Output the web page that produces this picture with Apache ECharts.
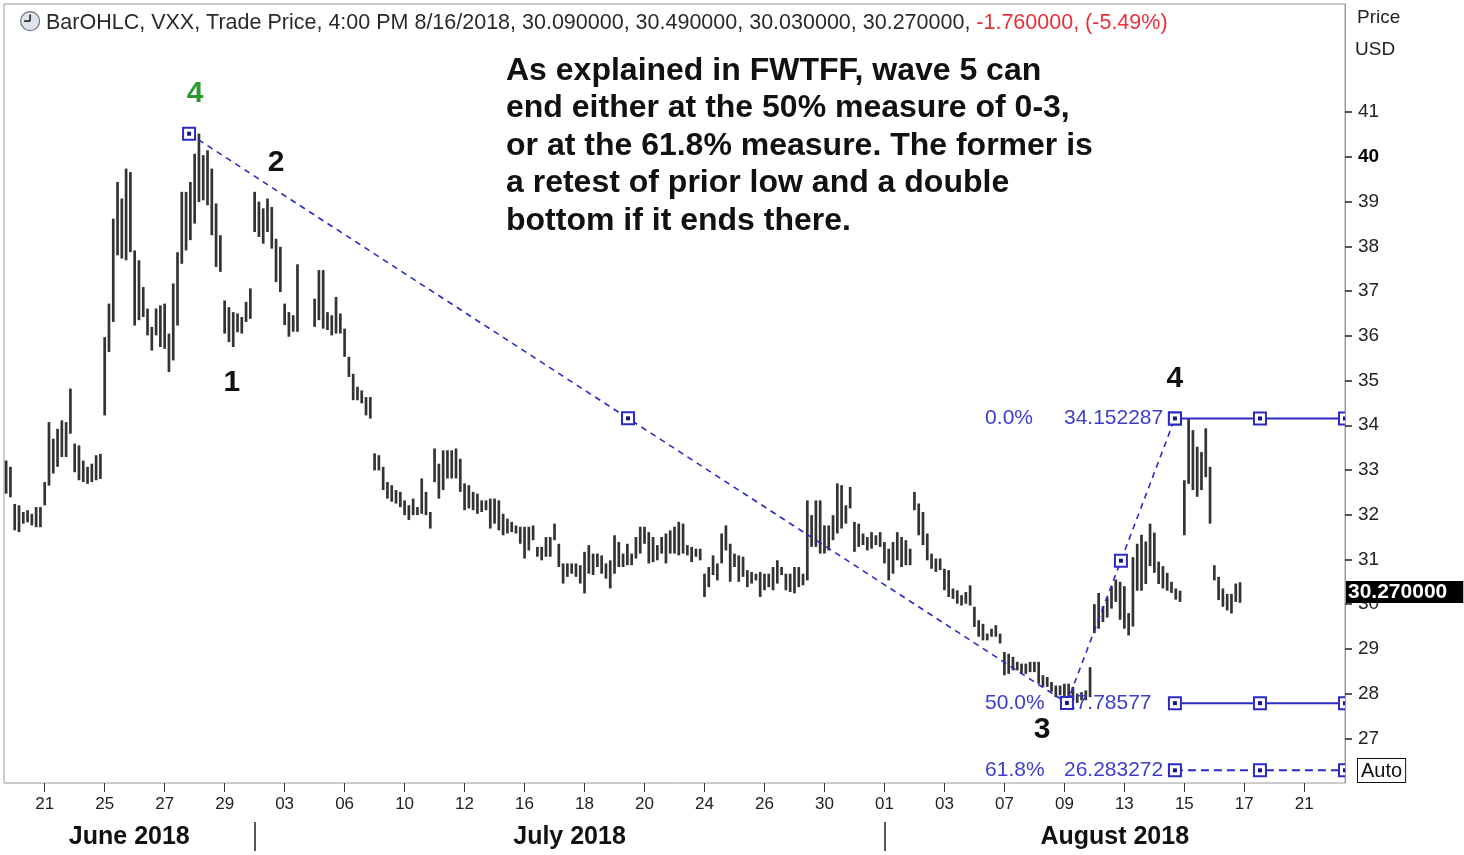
<!DOCTYPE html>
<html>
<head>
<meta charset="utf-8">
<script src="https://cdn.jsdelivr.net/npm/echarts@6/dist/echarts.min.js"></script>
<style>
html,body{margin:0;padding:0;background:#fff;}
#chart{width:1464px;height:855px;}
</style>
</head>
<body>
<div id="chart"></div>
<script>
// ---------------- DATA ----------------
// trading days on the time axis (7 hourly slots per day; the right-most days are still empty)
const tradingDays = ['2018-06-19','2018-06-20','2018-06-21','2018-06-22','2018-06-25','2018-06-26','2018-06-27','2018-06-28','2018-06-29',
  '2018-07-02','2018-07-03','2018-07-05','2018-07-06','2018-07-09','2018-07-10','2018-07-11','2018-07-12','2018-07-13',
  '2018-07-16','2018-07-17','2018-07-18','2018-07-19','2018-07-20','2018-07-23','2018-07-24','2018-07-25','2018-07-26','2018-07-27',
  '2018-07-30','2018-07-31','2018-08-01','2018-08-02','2018-08-03','2018-08-06','2018-08-07','2018-08-08','2018-08-09','2018-08-10',
  '2018-08-13','2018-08-14','2018-08-15','2018-08-16','2018-08-17','2018-08-20','2018-08-21','2018-08-22'];
const slotsPerDay = 7;
const firstBarSlot = 5;          // first visible bar = 6th hourly bar of June 19

// hourly bar highs / lows (null = no bar, e.g. July 3 half day)
const barHigh = [
  33.21, 33.07,                                         // Jun 19
  32.24, 32.21, 32.06, 32.10, 32.02, 32.17, 32.17,      // Jun 20
  32.73, 34.07, 33.70, 33.92, 34.11, 34.07, 34.82,      // Jun 21
  33.59, 33.55, 33.21, 33.07, 33.14, 33.33, 33.36,      // Jun 22
  35.97, 36.72, 38.62, 39.44, 39.07, 39.74, 39.66,      // Jun 25
  37.91, 37.69, 37.09, 36.61, 36.20, 36.61, 36.68,      // Jun 26
  36.72, 36.05, 37.17, 37.87, 39.22, 39.22, 39.44,      // Jun 27
  40.07, 40.52, 40.04, 40.15, 39.74, 38.96, 38.25,      // Jun 28
  36.79, 36.64, 36.53, 36.50, 36.42, 36.76, 37.06,      // Jun 29
  39.22, 39.00, 38.85, 39.07, 38.88, 38.17, 37.99,      // Jul 02
  36.72, 36.53, 36.46, 37.60, null, null, null,         // Jul 03
  36.83, 37.47, 37.47, 36.53, 36.46, 36.87, 36.50,      // Jul 05
  36.16, 35.53, 35.15, 34.86, 34.78, 34.63, 34.63,      // Jul 06
  33.37, 33.33, 33.07, 32.73, 32.66, 32.55, 32.51,      // Jul 09
  32.32, 32.21, 32.36, 32.17, 32.81, 32.51, 32.06,      // Jul 10
  33.48, 33.14, 33.44, 33.44, 33.44, 33.48, 33.25,      // Jul 11
  32.70, 32.66, 32.51, 32.47, 32.32, 32.32, 32.36,      // Jul 12
  32.36, 32.32, 32.02, 31.91, 31.84, 31.76, 31.73,      // Jul 13
  31.73, 31.73, 31.76, 31.28, 31.28, 31.50, 31.50,      // Jul 16
  31.80, 31.35, 30.91, 30.91, 30.91, 30.91, 30.87,      // Jul 17
  31.17, 31.32, 31.13, 31.13, 31.09, 30.91, 30.98,      // Jul 18
  31.54, 31.39, 31.13, 31.35, 31.13, 31.50, 31.73,      // Jul 19
  31.73, 31.61, 31.50, 31.32, 31.50, 31.58, 31.65,      // Jul 20
  31.73, 31.84, 31.80, 31.32, 31.28, 31.24, 31.24,      // Jul 23
  30.68, 30.83, 31.09, 30.91, 31.58, 31.76, 31.35,      // Jul 24
  31.13, 31.09, 31.06, 30.76, 30.72, 30.68, 30.72,      // Jul 25
  30.68, 30.68, 30.83, 30.98, 30.83, 30.68, 30.68,      // Jul 26
  30.83, 30.83, 30.68, 32.32, 31.99, 32.32, 32.32,      // Jul 27
  31.76, 31.76, 31.99, 32.70, 32.66, 32.21, 32.62,      // Jul 30
  31.84, 31.80, 31.58, 31.50, 31.61, 31.54, 31.61,      // Jul 31
  31.39, 31.24, 31.39, 31.61, 31.50, 31.43, 31.24,      // Aug 01
  32.51, 32.25, 32.06, 31.58, 31.13, 31.02, 31.02,      // Aug 02
  30.79, 30.76, 30.35, 30.31, 30.20, 30.27, 30.42,      // Aug 03
  29.94, 29.64, 29.56, 29.34, 29.45, 29.53, 29.34,      // Aug 06
  28.93, 28.89, 28.82, 28.71, 28.67, 28.67, 28.71,      // Aug 07
  28.71, 28.71, 28.41, 28.37, 28.26, 28.18, 28.18,      // Aug 08
  28.22, 28.22, 28.15, 28.00, 28.03, 28.07, 28.59,      // Aug 09
  30.00, 30.25, 29.95, 30.15, 30.40, 30.55, 30.50,      // Aug 10
  30.40, 29.80, 31.05, 31.35, 31.55, 31.40, 31.80,      // Aug 13
  31.60, 30.95, 30.85, 30.70, 30.50, 30.35, 30.30,      // Aug 14
  32.77, 34.15, 33.89, 33.52, 33.40, 33.93, 33.07,      // Aug 15
  30.87, 30.61, 30.35, 30.23, 30.23, 30.46, 30.49       // Aug 16
];
const barLow = [
  32.47, 32.39,
  31.65, 31.61, 31.80, 31.83, 31.76, 31.72, 31.72,
  32.21, 32.65, 32.92, 33.07, 33.29, 33.29, 33.81,
  32.95, 32.77, 32.73, 32.69, 32.73, 32.77, 32.80,
  34.22, 35.64, 36.31, 37.80, 37.73, 37.69, 37.87,
  36.23, 36.35, 36.42, 36.01, 35.67, 36.01, 35.75,
  35.71, 35.19, 35.45, 36.23, 37.61, 37.91, 38.14,
  38.51, 38.99, 39.03, 38.92, 38.25, 37.54, 37.43,
  36.05, 35.86, 35.75, 36.08, 36.05, 36.31, 36.38,
  38.32, 38.21, 38.06, 38.32, 37.95, 37.20, 36.98,
  36.24, 35.98, 36.09, 36.09, null, null, null,
  36.20, 36.35, 36.16, 36.13, 36.01, 36.05, 36.05,
  35.53, 35.08, 34.56, 34.56, 34.49, 34.22, 34.15,
  32.99, 32.99, 32.55, 32.36, 32.29, 32.25, 32.17,
  31.99, 31.88, 31.99, 31.99, 32.02, 31.99, 31.69,
  32.73, 32.36, 32.55, 32.81, 32.81, 32.81, 32.51,
  32.10, 32.14, 32.10, 32.02, 32.06, 32.10, 31.69,
  31.80, 31.65, 31.54, 31.58, 31.61, 31.58, 31.35,
  31.02, 31.20, 31.43, 31.06, 30.98, 31.06, 31.06,
  31.43, 30.83, 30.46, 30.61, 30.68, 30.61, 30.46,
  30.24, 30.68, 30.65, 30.83, 30.68, 30.57, 30.35,
  30.68, 30.83, 30.83, 30.87, 30.87, 31.02, 31.13,
  31.35, 30.91, 30.94, 30.98, 31.13, 30.91, 31.13,
  31.13, 31.09, 31.13, 31.09, 30.94, 31.06, 30.98,
  30.16, 30.38, 30.65, 30.53, 30.91, 31.20, 30.50,
  30.83, 30.50, 30.61, 30.38, 30.46, 30.53, 30.16,
  30.31, 30.38, 30.31, 30.46, 30.65, 30.31, 30.27,
  30.24, 30.38, 30.42, 30.53, 31.28, 31.28, 31.13,
  31.13, 31.20, 31.43, 31.58, 31.69, 31.80, 32.14,
  31.17, 31.28, 31.32, 31.20, 31.24, 31.32, 31.28,
  30.91, 30.53, 30.68, 30.98, 30.83, 30.87, 30.87,
  32.10, 31.54, 31.32, 30.98, 30.79, 30.72, 30.76,
  30.31, 30.16, 30.12, 30.01, 29.97, 30.01, 29.97,
  29.49, 29.27, 29.19, 29.19, 29.27, 29.27, 29.12,
  28.41, 28.44, 28.52, 28.52, 28.44, 28.44, 28.48,
  28.48, 28.22, 28.15, 28.15, 28.04, 27.92, 27.96,
  27.92, 27.89, 27.85, 27.79, 27.85, 27.85, 27.92,
  29.35, 29.45, 29.60, 29.70, 29.90, 30.05, 29.65,
  29.45, 29.30, 29.50, 30.30, 30.30, 30.45, 30.85,
  30.70, 30.45, 30.35, 30.30, 30.25, 30.10, 30.05,
  31.54, 32.69, 32.55, 32.40, 32.55, 32.84, 31.80,
  30.53, 30.09, 29.94, 29.86, 29.79, 30.05, 30.03
];
// last bar (header) : open, high, low, close, change, change %
const lastBarOHLC = [30.09, 30.49, 30.03, 30.27];
const lastChange = -1.76;
const lastChangePct = -5.49;

// axis tick labels
const dateTickDays = ['2018-06-21','2018-06-25','2018-06-27','2018-06-29','2018-07-03','2018-07-06','2018-07-10','2018-07-12',
  '2018-07-16','2018-07-18','2018-07-20','2018-07-24','2018-07-26','2018-07-30','2018-08-01','2018-08-03','2018-08-07',
  '2018-08-09','2018-08-13','2018-08-15','2018-08-17','2018-08-21'];
const monthNames = ['June 2018','July 2018','August 2018'];
const monthStartDays = [null,'2018-07-02','2018-08-01'];
const priceTicks = [27,28,29,30,31,32,33,34,35,36,37,38,39,40,41];

// Fibonacci drawing (anchors in slot / price) and its levels
const waveAnchorSlot  = [47.7, 252.6, 277.8];
const waveAnchorPrice = [40.52, 27.79, 34.152287];
const fibPct   = ['0.0%', '50.0%', '61.8%'];
const fibValue = [34.152287, 27.78577, 26.283272];
const fibPctSlot = 233.5, fibValueSlot = 251.9;

// Elliott wave labels
const waveLabelText  = ['4', '2', '1', '3', '4'];
const waveLabelSlot  = [49.1, 68.0, 57.7, 246.8, 277.8];
const waveLabelPrice = [41.42, 39.88, 34.94, 27.18, 35.05];
const waveLabelColor = ['#2e9a2e', '#111', '#111', '#111', '#111'];

const noteLines = ['As explained in FWTFF, wave 5 can','end either at the 50% measure of 0-3,',
  'or at the 61.8% measure. The former is','a retest of prior low and a double','bottom if it ends there.'];

// ---------------- BUILD ----------------
const FONT = 'Liberation Sans, Arial, sans-serif';
const X_MIN = 4.5, X_MAX = X_MIN + 313;
const daySlot = d => tradingDays.indexOf(d) * slotsPerDay;

const barData = [];
barHigh.forEach((h, i) => { if (h != null) barData.push([firstBarSlot + i, h, barLow[i]]); });

const dateTickSlots = dateTickDays.map(daySlot);
const dateLabelBySlot = {};
dateTickDays.forEach((d, k) => { dateLabelBySlot[dateTickSlots[k]] = d.slice(8); });

const monthBoundary = monthStartDays.map(d => d ? daySlot(d) : X_MIN);
const monthCenters = monthBoundary.map((b, k) => (b + (k + 1 < monthBoundary.length ? monthBoundary[k + 1] : X_MAX)) / 2);
const monthLabelBySlot = {};
monthCenters.forEach((c, k) => { monthLabelBySlot[c] = monthNames[k]; });

const waveLine = waveAnchorSlot.map((s, k) => [s, waveAnchorPrice[k]]);
const handles = [];
waveLine.forEach((p, k) => {
  handles.push(p);
  if (k + 1 < waveLine.length) handles.push([(p[0] + waveLine[k + 1][0]) / 2, (p[1] + waveLine[k + 1][1]) / 2]);
});
const levelStart = waveAnchorSlot[2];
fibValue.forEach(v => {
  handles.push([levelStart, v], [(levelStart + X_MAX) / 2, v], [X_MAX, v]);
});

const lastClose = lastBarOHLC[3];
const hdr = 'BarOHLC, VXX, Trade Price, 4:00 PM 8/16/2018, ' + lastBarOHLC.map(v => v.toFixed(6)).join(', ') + ', ';
const hdrRed = lastChange.toFixed(6) + ', (' + lastChangePct.toFixed(2) + '%)';

const BLUE = '#2b2bc4';

const levelSeries = fibValue.map((v, k) => ({
  type: 'line', silent: true, symbol: 'none', z: 4, clip: true,
  data: [[levelStart, v], [X_MAX, v]],
  lineStyle: { color: BLUE, width: 2, type: k === 2 ? [8, 5] : 'solid' }
}));

const option = {
  animation: false,
  backgroundColor: '#fff',
  textStyle: { fontFamily: FONT },
  title: [
    { left: 46, top: 12, padding: 0, text: '{n|' + hdr + '}{r|' + hdrRed + '}',
      textStyle: { fontWeight: 'normal', rich: {
        n: { fontSize: 21.5, fontWeight: 'normal', color: '#2a2a2a', fontFamily: FONT },
        r: { fontSize: 21.5, fontWeight: 'normal', color: '#e8303a', fontFamily: FONT } } } },
    { left: 1357, top: 8, padding: 0, text: 'Price', textStyle: { fontSize: 19, fontWeight: 'normal', color: '#222', fontFamily: FONT } },
    { left: 1355, top: 40, padding: 0, text: 'USD', textStyle: { fontSize: 19, fontWeight: 'normal', color: '#222', fontFamily: FONT } },
    { left: 506, top: 52, padding: 0, text: noteLines.join('\n'),
      textStyle: { fontSize: 32, fontWeight: 'bold', color: '#111', lineHeight: 37.6, fontFamily: FONT } }
  ],
  grid: { left: 4, right: 119, top: 4, bottom: 72, show: true, borderColor: '#9a9a9a', borderWidth: 1, backgroundColor: '#fff' },
  xAxis: [
    { type: 'value', min: X_MIN, max: X_MAX, position: 'bottom',
      splitLine: { show: false }, axisLine: { show: false },
      axisTick: { show: true, customValues: dateTickSlots, length: 9, lineStyle: { color: '#333', width: 1 } },
      axisLabel: { customValues: dateTickSlots, formatter: v => dateLabelBySlot[v] || '', margin: 13, fontSize: 17, color: '#222', fontFamily: FONT } },
    { type: 'value', min: X_MIN, max: X_MAX, position: 'bottom', offset: 39,
      splitLine: { show: false }, axisLine: { show: false },
      axisTick: { show: true, customValues: monthBoundary.slice(1), length: 29, lineStyle: { color: '#222', width: 1.5 } },
      axisLabel: { customValues: monthCenters, formatter: v => monthLabelBySlot[v] || '', margin: 3, fontSize: 25, fontWeight: 'bold', color: '#111', fontFamily: FONT } }
  ],
  yAxis: [
    { type: 'value', position: 'right', min: 26, max: 43.42, scale: true,
      splitLine: { show: false },
      axisLine: { show: true, lineStyle: { color: '#9a9a9a', width: 1 } },
      axisTick: { show: true, customValues: priceTicks, length: 7, lineStyle: { color: '#222', width: 1.5 } },
      axisLabel: { customValues: priceTicks, margin: 13, fontSize: 19, color: '#222', fontFamily: FONT,
        formatter: v => v === 40 ? '{b|40}' : String(v),
        rich: { b: { fontSize: 19, fontWeight: 'bold', color: '#000', fontFamily: FONT } } } }
  ],
  series: [
    { type: 'custom', name: 'VXX', clip: true, z: 2, silent: true,
      encode: { x: 0, y: [1, 2] },
      data: barData,
      renderItem: (params, api) => {
        const a = api.coord([api.value(0), api.value(1)]);
        const b = api.coord([api.value(0), api.value(2)]);
        return { type: 'line', shape: { x1: a[0], y1: a[1], x2: b[0], y2: b[1] }, style: { stroke: '#333', lineWidth: 2.7 } };
      } },
    { type: 'line', name: 'wave', silent: true, symbol: 'none', z: 4, clip: true,
      data: waveLine,
      lineStyle: { color: BLUE, width: 1.6, type: [6, 5] },
      markLine: { silent: true, symbol: ['none', 'none'], animation: false,
        lineStyle: { color: 'rgba(0,0,0,0)', width: 0 },
        label: { show: true, position: 'end', distance: 1, formatter: lastClose.toFixed(6),
          backgroundColor: '#000', color: '#fff', fontSize: 21, fontWeight: 'bold', padding: [1, 16, 0, 2], fontFamily: FONT },
        data: [{ yAxis: lastClose }] } },
    ...levelSeries,
    { type: 'custom', name: 'fibText', z: 5, silent: true, clip: false,
      data: fibValue.map((v, k) => [k, v]),
      renderItem: (params, api) => {
        const k = params.dataIndex, v = fibValue[k];
        const p = api.coord([fibPctSlot, v]);
        const q = api.coord([fibValueSlot, v]);
        const st = { fill: '#3d3dc8', font: '21px ' + FONT, verticalAlign: 'middle', align: 'left' };
        return { type: 'group', children: [
          { type: 'text', x: p[0], y: p[1], style: Object.assign({ text: fibPct[k] }, st) },
          { type: 'text', x: q[0], y: q[1], style: Object.assign({ text: String(v) }, st) }
        ] };
      } },
    { type: 'custom', name: 'handles', z: 6, silent: true, clip: true,
      data: handles,
      renderItem: (params, api) => {
        const c = api.coord([api.value(0), api.value(1)]);
        return { type: 'group', children: [
          { type: 'rect', shape: { x: c[0] - 6, y: c[1] - 6, width: 12, height: 12 }, style: { fill: '#fff', stroke: BLUE, lineWidth: 2 } },
          { type: 'rect', shape: { x: c[0] - 2, y: c[1] - 2, width: 4, height: 4 }, style: { fill: '#14148a' } }
        ] };
      } },
    { type: 'custom', name: 'waves', z: 7, silent: true, clip: false,
      data: waveLabelText.map((t, k) => [waveLabelSlot[k], waveLabelPrice[k]]),
      renderItem: (params, api) => {
        const k = params.dataIndex;
        const c = api.coord([api.value(0), api.value(1)]);
        return { type: 'text', x: c[0], y: c[1], style: { text: waveLabelText[k], fill: waveLabelColor[k],
          font: 'bold 30px ' + FONT, align: 'center', verticalAlign: 'middle' } };
      } }
  ],
  graphic: [
    { type: 'group', left: 20, top: 11, children: [
      { type: 'circle', shape: { cx: 10, cy: 10, r: 9.5 }, style: { fill: '#dfe3ea', stroke: '#6c7080', lineWidth: 1.2 } },
      { type: 'line', shape: { x1: 10, y1: 10, x2: 10, y2: 3.5 }, style: { stroke: '#222', lineWidth: 1.6 } },
      { type: 'line', shape: { x1: 10, y1: 10, x2: 4, y2: 10 }, style: { stroke: '#222', lineWidth: 1.6 } }
    ] },
    { type: 'text', left: 1357, top: 758, style: { text: 'Auto', font: '20px ' + FONT, fill: '#111',
      backgroundColor: '#fff', borderColor: '#111', borderWidth: 1, padding: [2, 3, 1, 3] } }
  ]
};

const chart = echarts.init(document.getElementById('chart'));
chart.setOption(option);
</script>
</body>
</html>
